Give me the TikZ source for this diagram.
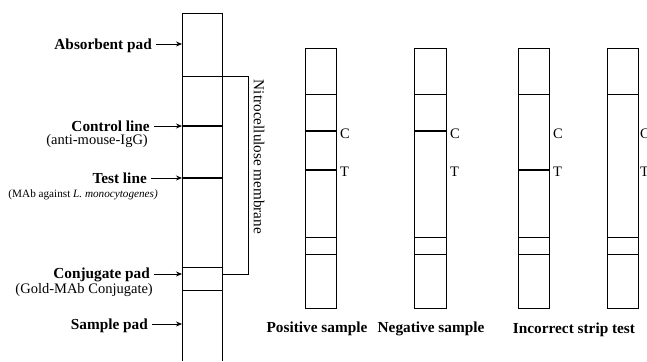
\documentclass[tikz,border=0pt]{standalone}
\usepackage{fontspec}
\setmainfont{Liberation Serif}
\usetikzlibrary{arrows.meta}
\begin{document}
\begin{tikzpicture}[x=1pt,y=-1pt,
  edge/.style={line width=0.9pt},
  band/.style={line width=2pt},
  lbl/.style={font=\fontsize{15.3}{17}\selectfont\bfseries, inner sep=0pt, anchor=base east},
  sub/.style={font=\fontsize{14.5}{16}\selectfont, inner sep=0pt, anchor=base east},
  ptr/.style={-{Stealth[length=6pt,width=5pt]}, line width=0.8pt},
  ct/.style={font=\fontsize{14.5}{16}\selectfont, inner sep=0pt, anchor=base west},
  captxt/.style={font=\fontsize{15.3}{17}\selectfont\bfseries, inner sep=0pt, anchor=base}]
\useasboundingbox (0,0) rectangle (647,361);
% main strip
\coordinate (mtl) at (182,13); \coordinate (mtr) at (222,13);
\coordinate (mbl) at (182,361); \coordinate (mbr) at (222,361);
\draw[edge] (mbl) -- (mtl) -- (mtr) -- (mbr);
\draw[edge] (182,76) -- (222,76);
\draw[band] (182,126) -- (222,126);
\draw[band] (182,178) -- (222,178);
\draw[edge] (182,267) -- (222,267);
\draw[edge] (182,290) -- (222,290);
% bracket
\coordinate (b1) at (222,76); \coordinate (b2) at (248,76);
\coordinate (b3) at (248,274); \coordinate (b4) at (222,274);
\draw[edge] (b1) -- (b2) -- (b3) -- (b4);
\node[font=\fontsize{15.2}{17}\selectfont, rotate=-90, inner sep=0pt] (nm) at (259,157) {Nitrocellulose membrane};
% labels
\node[lbl] (ab) at (152,49) {Absorbent pad};
\coordinate (abt) at (182,44);
\draw[ptr] (156,44) -- (abt);
\node[lbl] (cl) at (150,131) {Control line};
\node[sub] (cls) at (148,144.5) {(anti-mouse-IgG)};
\coordinate (clt) at (182,126);
\draw[ptr] (154,126) -- (clt);
\node[lbl] (tl) at (147,183) {Test line};
\node[sub, font=\fontsize{11.2}{13}\selectfont] (tls) at (158,197) {(MAb against \textit{L. monocytogenes)}};
\coordinate (tlt) at (182,178);
\draw[ptr] (151,178) -- (tlt);
\node[lbl] (cp) at (150,278) {Conjugate pad};
\node[sub] (cps) at (153,293) {(Gold-MAb Conjugate)};
\coordinate (cpt) at (182,274);
\draw[ptr] (154,274) -- (cpt);
\node[lbl] (sp) at (148,329) {Sample pad};
\coordinate (spt) at (182,324);
\draw[ptr] (152,324) -- (spt);
% small strips
\foreach \n/\l/\r/\c/\t/\g in {s1/305/336/1/1/4, s2/414/446/1/0/4, s3/518/549/0/1/4, s4/607/638/0/0/2}{
  \node[draw, line width=0.9pt, minimum width=\r-\l, minimum height=260, inner sep=0pt, anchor=north west] (\n) at (\l,48) {};
  \draw[edge] (\l,94) -- (\r,94);
  \draw[edge] (\l,237) -- (\r,237);
  \draw[edge] (\l,254) -- (\r,254);
  \ifnum\c=1 \draw[band] (\l,131) -- (\r,131); \fi
  \ifnum\t=1 \draw[band] (\l,170) -- (\r,170); \fi
  \node[ct] (\n C) at (\r+\g,138) {C};
  \node[ct] (\n T) at (\r+\g,176) {T};
}
\node[captxt] (pos) at (317,332) {Positive sample};
\node[captxt] (neg) at (431,332) {Negative sample};
\node[captxt] (inc) at (574,333) {Incorrect strip test};
\end{tikzpicture}
\end{document}
